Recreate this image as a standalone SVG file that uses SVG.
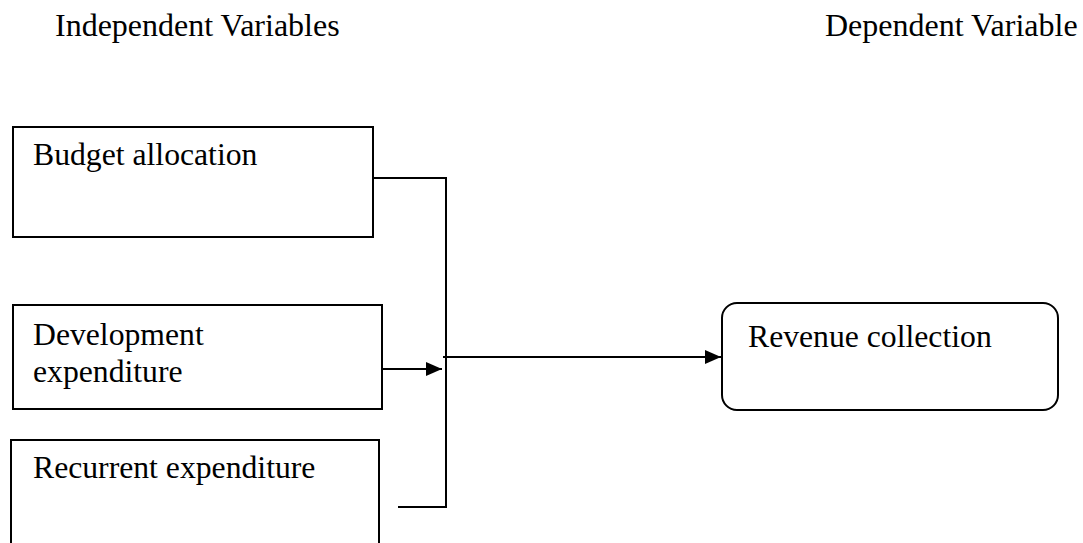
<svg xmlns="http://www.w3.org/2000/svg" width="1083" height="543" viewBox="0 0 1083 543">
<style>
text{font-family:"Liberation Serif","Times New Roman",serif;font-size:31.7px;fill:#000}
text.hd{font-size:32px}
.box{fill:#fff;stroke:#000;stroke-width:2}
.ln{fill:none;stroke:#000;stroke-width:2}
</style>
<defs>
<marker id="ah" viewBox="0 0 16 14" refX="16" refY="7" markerWidth="16" markerHeight="14" markerUnits="userSpaceOnUse" orient="auto">
<path d="M0,0 L16,7 L0,14 z" fill="#000"/>
</marker>
</defs>
<rect width="1083" height="543" fill="#fff"/>
<text class="hd" x="55" y="36">Independent Variables</text>
<text class="hd" x="825" y="36">Dependent Variable</text>
<g id="budget">
<rect class="box" x="13" y="127" width="360" height="110"/>
<text x="33" y="165">Budget allocation</text>
</g>
<g id="development">
<rect class="box" x="13" y="305" width="369" height="104"/>
<text x="33" y="345">Development</text>
<text x="33" y="382">expenditure</text>
</g>
<g id="recurrent">
<rect class="box" x="11" y="440" width="368" height="110"/>
<text x="33" y="478">Recurrent expenditure</text>
</g>
<g id="revenue">
<rect class="box" x="722" y="303" width="336" height="107" rx="15" ry="15"/>
<text x="748" y="347">Revenue collection</text>
</g>
<g id="connectors">
<polyline class="ln" points="373,178 446,178 446,507 398,507"/>
<line class="ln" x1="382" y1="369" x2="442" y2="369" marker-end="url(#ah)"/>
<line class="ln" x1="443" y1="357" x2="721" y2="357" marker-end="url(#ah)"/>
</g>
</svg>
